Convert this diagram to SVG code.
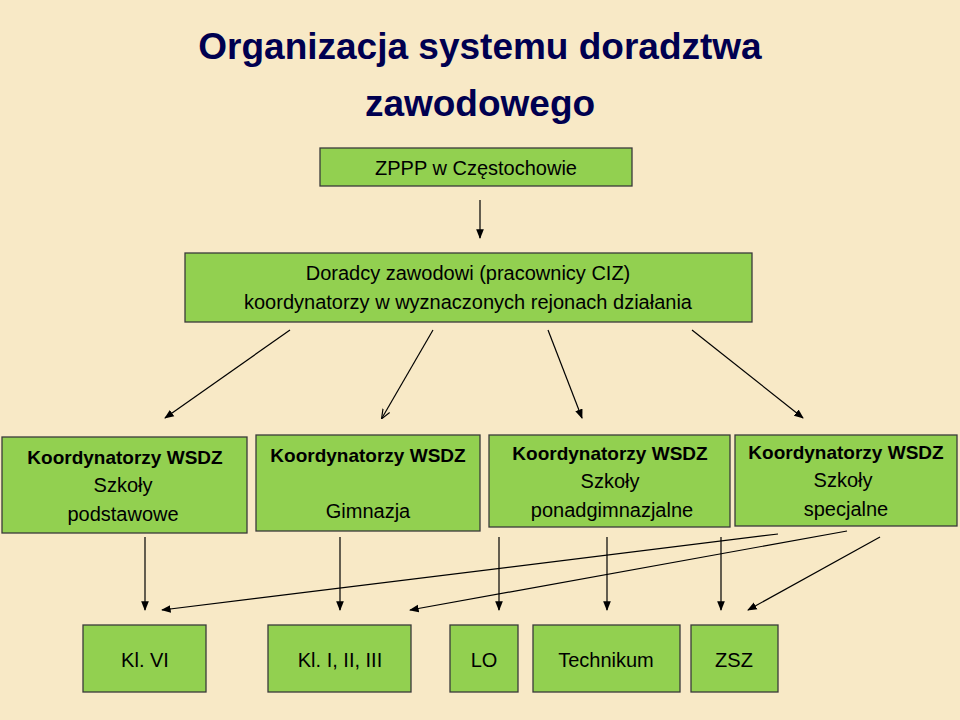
<svg xmlns="http://www.w3.org/2000/svg" width="960" height="720" viewBox="0 0 960 720">
<defs>
<style>
.b{fill:#92d050;stroke:#3a3a3a;stroke-width:1.3}
.t{font-family:"Liberation Sans",Arial,sans-serif;font-size:20px;fill:#000;text-anchor:middle}
.k{font-weight:bold;font-size:19px}
.c line{stroke:#000;stroke-width:1.2}
</style>
<marker id="a" viewBox="0 0 10 10" refX="9" refY="5" markerWidth="8" markerHeight="8" orient="auto-start-reverse"><path d="M0,1 L10,5 L0,9 z" fill="#000"/></marker>
<marker id="o" viewBox="0 0 10 10" refX="9" refY="5" markerWidth="8" markerHeight="8" orient="auto"><path d="M0,1 L10,5 L0,9" fill="none" stroke="#000" stroke-width="1.2"/></marker>
</defs>
<rect width="960" height="720" fill="#f8e9c6"/>
<g id="title" font-family="'Liberation Sans',Arial,sans-serif" font-weight="bold" font-size="37" fill="#000050" text-anchor="middle">
<text x="480" y="59">Organizacja systemu doradztwa</text>
<text x="480" y="116">zawodowego</text>
</g>
<g id="zppp"><rect class="b" x="320" y="148" width="312" height="38"/><text class="t" x="476" y="175">ZPPP w Częstochowie</text></g>
<g id="doradcy"><rect class="b" x="185" y="253" width="567" height="69"/><text class="t" x="468" y="280">Doradcy zawodowi (pracownicy CIZ)</text><text class="t" x="468" y="309">koordynatorzy w wyznaczonych rejonach działania</text></g>
<g id="k1"><rect class="b" x="2" y="437" width="245" height="96"/><text class="t k" x="125" y="464">Koordynatorzy WSDZ</text><text class="t" x="123" y="492">Szkoły</text><text class="t" x="123" y="521">podstawowe</text></g>
<g id="k2"><rect class="b" x="256" y="435" width="224" height="96"/><text class="t k" x="368" y="462">Koordynatorzy WSDZ</text><text class="t" x="368" y="518">Gimnazja</text></g>
<g id="k3"><rect class="b" x="489" y="435" width="241" height="92"/><text class="t k" x="610" y="460">Koordynatorzy WSDZ</text><text class="t" x="610" y="488">Szkoły</text><text class="t" x="612" y="517">ponadgimnazjalne</text></g>
<g id="k4"><rect class="b" x="735" y="435" width="222" height="91"/><text class="t k" x="846" y="459">Koordynatorzy WSDZ</text><text class="t" x="843" y="487">Szkoły</text><text class="t" x="846" y="516">specjalne</text></g>
<g id="kl6"><rect class="b" x="83" y="625" width="123" height="67"/><text class="t" x="145" y="667">Kl. VI</text></g>
<g id="kl1"><rect class="b" x="268" y="625" width="143" height="67"/><text class="t" x="340" y="667">Kl. I, II, III</text></g>
<g id="lo"><rect class="b" x="450" y="625" width="68" height="67"/><text class="t" x="484" y="667">LO</text></g>
<g id="tech"><rect class="b" x="533" y="625" width="147" height="67"/><text class="t" x="606" y="667">Technikum</text></g>
<g id="zsz"><rect class="b" x="691" y="625" width="87" height="67"/><text class="t" x="734" y="667">ZSZ</text></g>
<g id="connectors" class="c">
<line x1="480" y1="200" x2="480" y2="238" marker-end="url(#a)"/>
<line x1="290" y1="330" x2="165" y2="418" marker-end="url(#a)"/>
<line x1="433" y1="330" x2="382" y2="418" marker-end="url(#o)"/>
<line x1="548" y1="330" x2="582" y2="418" marker-end="url(#a)"/>
<line x1="692" y1="330" x2="803" y2="418" marker-end="url(#a)"/>
<line x1="145" y1="537" x2="145" y2="610" marker-end="url(#a)"/>
<line x1="340" y1="537" x2="340" y2="610" marker-end="url(#a)"/>
<line x1="499" y1="537" x2="499" y2="610" marker-end="url(#a)"/>
<line x1="607" y1="537" x2="607" y2="610" marker-end="url(#a)"/>
<line x1="721" y1="537" x2="721" y2="610" marker-end="url(#a)"/>
<line x1="778" y1="534" x2="162" y2="610" marker-end="url(#a)"/>
<line x1="847" y1="531" x2="410" y2="610" marker-end="url(#a)"/>
<line x1="880" y1="537" x2="748" y2="610" marker-end="url(#a)"/>
</g>
</svg>
